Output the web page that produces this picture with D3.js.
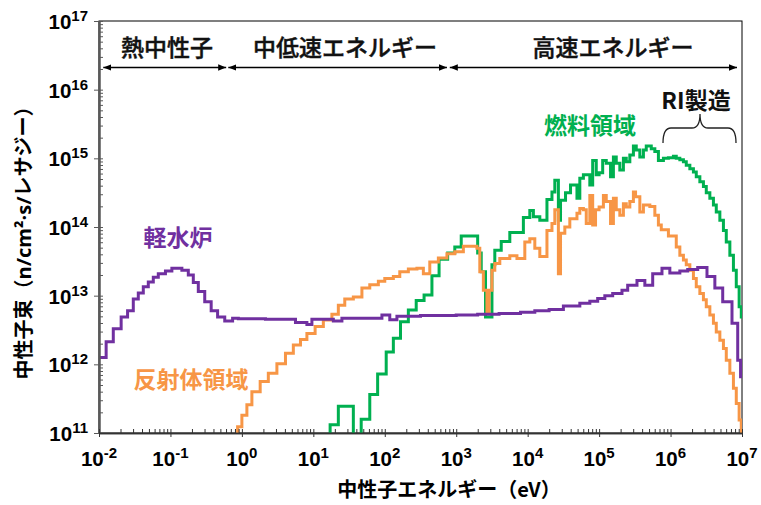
<!DOCTYPE html>
<html><head><meta charset="utf-8">
<script src="https://cdn.jsdelivr.net/npm/d3@7"></script>
<style>body{margin:0;background:#fff;} svg{display:block}</style>
</head><body>
<svg id="chart" width="761" height="505"></svg>
<script>
// ---- tick labels (exponents of 10) ----
const xTickExps = [-2,-1,0,1,2,3,4,5,6,7];
const yTickExps = [11,12,13,14,15,16,17];
const eMaxExp = 7;

// ---- series: lower bin edge log10(E/eV) and log10(flux) per bin ----
// 軽水炉 (light water reactor)
const lwrStart = [-2.0,-1.90,-1.80,-1.69,-1.60,-1.52,-1.45,-1.38,-1.31,-1.24,
 -1.17,-1.07,-0.98,-0.84,-0.75,-0.68,-0.61,-0.52,-0.43,-0.34,
 -0.24,-0.13,-0.05,0.33,0.75,0.91,0.98,1.28,1.40,1.96,
 2.07,2.17,2.5,3.0,3.3,3.6,3.9,4.1,4.3,4.5,
 4.73,4.87,4.98,5.08,5.19,5.32,5.40,5.53,5.64,5.75,
 5.88,5.99,6.13,6.24,6.38,6.51,6.62,6.73,6.86,6.94,
 6.98];
const lwrFlux = [12.10,12.33,12.52,12.69,12.78,12.95,13.04,13.13,13.20,13.27,
 13.32,13.36,13.40,13.37,13.30,13.19,13.06,12.91,12.78,12.69,
 12.63,12.67,12.665,12.655,12.61,12.58,12.655,12.63,12.67,12.72,
 12.65,12.70,12.71,12.72,12.73,12.74,12.76,12.78,12.80,12.85,
 12.89,12.92,12.96,13.00,13.03,13.08,13.15,13.22,13.15,13.32,
 13.40,13.33,13.36,13.38,13.41,13.28,13.11,12.91,12.60,12.06,
 11.82];

// 反射体領域 (reflector region)
const refStart = [-0.06,0.0,0.07,0.14,0.256,0.37,0.49,0.61,0.72,0.82,
 0.91,1.025,1.14,1.26,1.35,1.44,1.56,1.68,1.79,1.91,
 2.0,2.12,2.21,2.33,2.45,2.54,2.63,2.75,2.87,2.98,
 3.10,3.29,3.33,3.38,3.43,3.46,3.50,3.54,3.61,3.75,
 3.85,3.96,4.03,4.10,4.17,4.27,4.34,4.38,4.43,4.46,
 4.52,4.59,4.69,4.73,4.78,4.82,4.87,4.91,4.95,5.0,
 5.06,5.10,5.16,5.20,5.24,5.29,5.34,5.38,5.43,5.48,
 5.51,5.57,5.62,5.71,5.78,5.83,5.87,5.97,6.08,6.13,
 6.18,6.22,6.27,6.32,6.36,6.41,6.46,6.50,6.55,6.60,
 6.64,6.69,6.74,6.78,6.83,6.88,6.92,6.96,6.99];
const refFlux = [11.09,11.26,11.41,11.60,11.75,11.87,12.01,12.16,12.28,12.36,
 12.45,12.55,12.645,12.73,12.86,12.95,12.98,13.11,13.16,13.21,
 13.25,13.28,13.35,13.39,13.40,13.32,13.49,13.55,13.61,13.64,
 13.72,13.69,13.35,13.08,12.74,13.08,13.37,13.47,13.54,13.58,
 13.54,13.78,13.83,13.69,13.57,13.95,14.05,14.25,13.32,13.91,
 14.00,14.12,14.20,14.27,14.25,14.05,14.46,14.03,14.25,14.29,
 14.46,14.37,14.05,14.42,14.25,14.17,14.34,14.29,14.37,14.51,
 14.44,14.22,14.32,14.30,14.17,14.03,13.96,13.87,13.71,13.59,
 13.52,13.45,13.37,13.25,13.13,13.03,12.94,12.84,12.72,12.60,
 12.47,12.35,12.23,12.06,11.87,11.65,11.43,11.19,11.02];

// 燃料領域 (fuel region)
const fuelStart = [1.235,1.35,1.56,1.67,1.79,1.90,2.02,2.12,2.22,2.33,
 2.44,2.55,2.66,2.76,2.88,2.98,3.07,3.30,3.35,3.41,
 3.50,3.54,3.63,3.75,3.94,4.03,4.08,4.17,4.27,4.34,
 4.38,4.43,4.46,4.53,4.60,4.69,4.73,4.78,4.87,4.91,
 4.96,5.0,5.05,5.10,5.16,5.20,5.24,5.29,5.34,5.38,
 5.43,5.48,5.52,5.57,5.62,5.66,5.73,5.78,5.83,5.90,
 5.97,6.04,6.08,6.13,6.18,6.22,6.27,6.32,6.36,6.41,
 6.46,6.50,6.55,6.60,6.64,6.69,6.74,6.78,6.83,6.88,
 6.92,6.96,6.99];
const fuelFlux = [11.12,11.39,10.5,11.20,11.56,11.86,12.18,12.38,12.62,12.79,
 12.93,13.01,13.29,13.53,13.62,13.71,13.87,13.62,13.35,12.69,
 13.45,13.66,13.79,13.92,14.14,14.24,14.15,14.10,14.40,14.51,
 14.68,14.10,14.39,14.50,14.61,14.42,14.71,14.76,14.61,14.97,
 14.76,14.79,14.97,14.93,14.73,15.02,14.93,14.83,15.00,14.95,
 15.05,15.18,15.12,15.02,15.12,15.18,15.14,15.10,14.97,15.00,
 15.01,15.03,15.00,14.98,14.95,14.90,14.85,14.80,14.73,14.66,
 14.59,14.50,14.42,14.32,14.22,14.10,13.95,13.78,13.59,13.37,
 13.13,12.84,12.69];

// energy-range arrows (log10 E) and labels
const rangeLabels = ["熱中性子","中低速エネルギー","高速エネルギー"];
const rangeFrom = [-1.94,-0.19,2.91];
const rangeTo   = [-0.22,2.87,6.93];

const svg = d3.select("#chart");
const M = {left:99, right:742, top:21, bottom:433};
const x = d3.scaleLog().domain([10**xTickExps[0], 10**xTickExps[xTickExps.length-1]]).range([M.left, M.right]);
const y = d3.scaleLog().domain([10**yTickExps[0], 10**yTickExps[yTickExps.length-1]]).range([M.bottom, M.top]);

const JP = "'Noto Sans CJK JP','Noto Sans CJK SC',sans-serif";
const NUM = "'Liberation Sans',Arial,sans-serif";

// frame (top & right)
svg.append("rect").attr("x",M.left).attr("y",M.top).attr("width",M.right-M.left).attr("height",M.bottom-M.top)
  .attr("fill","none").attr("stroke","#000").attr("stroke-width",1);

// clip
svg.append("defs").append("clipPath").attr("id","plot").append("rect")
  .attr("x",M.left).attr("y",M.top).attr("width",M.right-M.left).attr("height",M.bottom-M.top);

const series = [
  {start:fuelStart, flux:fuelFlux, color:"#00B050", fromAxis:true},
  {start:refStart,  flux:refFlux,  color:"#F79646", fromAxis:true},
  {start:lwrStart,  flux:lwrFlux,  color:"#7030A0", fromAxis:false}
];
const line = d3.line().x(d=>x(d[0])).y(d=>y(d[1])).curve(d3.curveStepAfter);
const gL = svg.append("g").attr("clip-path","url(#plot)");
series.forEach(s=>{
  const pts = [];
  if (s.fromAxis) pts.push([10**s.start[0], 10**(yTickExps[0]-0.5)]);
  s.start.forEach((e,i)=>pts.push([10**e, 10**s.flux[i]]));
  pts.push([10**eMaxExp, 10**s.flux[s.flux.length-1]]);
  gL.append("path").attr("d",line(pts)).attr("fill","none")
    .attr("stroke",s.color).attr("stroke-width",3).attr("stroke-linejoin","miter");
});

// ticks
const xMaj = xTickExps.map(e=>10**e);
const yMaj = yTickExps.map(e=>10**e);
const xAll = [], yAll = [];
for (let k=xTickExps[0]; k<xTickExps[xTickExps.length-1]; k++) for (let j=1;j<=9;j++) xAll.push(j*10**k);
xAll.push(10**xTickExps[xTickExps.length-1]);
for (let k=yTickExps[0]; k<yTickExps[yTickExps.length-1]; k++) for (let j=1;j<=9;j++) yAll.push(j*10**k);
yAll.push(10**yTickExps[yTickExps.length-1]);

function styleAxis(g, col, w){
  g.selectAll("text").remove();
  g.select(".domain").attr("stroke",col).attr("stroke-width",w);
  g.selectAll(".tick line").attr("stroke",col).attr("stroke-width",1);
}
// y axis
svg.append("g").attr("transform",`translate(${M.left},0)`)
  .call(d3.axisRight(y).tickValues(yAll).tickSize(4).tickSizeOuter(0).tickFormat(""))
  .call(g=>styleAxis(g,"#595959",2));
svg.append("g").attr("transform",`translate(${M.left},0)`)
  .call(d3.axisLeft(y).tickValues(yMaj).tickSize(5).tickSizeOuter(0).tickFormat(""))
  .call(g=>styleAxis(g,"#595959",2));
// x axis
svg.append("g").attr("transform",`translate(0,${M.bottom})`)
  .call(d3.axisTop(x).tickValues(xAll).tickSize(4).tickSizeOuter(0).tickFormat(""))
  .call(g=>styleAxis(g,"#333",1.5));
svg.append("g").attr("transform",`translate(0,${M.bottom})`)
  .call(d3.axisBottom(x).tickValues(xMaj).tickSize(4).tickSizeOuter(0).tickFormat(""))
  .call(g=>styleAxis(g,"#333",1.5));

// tick labels
function powLabel(sel){
  sel.append("tspan").text("10");
  sel.append("tspan").attr("dy",-8).attr("font-size",15).text(d=>d);
}
svg.append("g").selectAll("text").data(xTickExps).join("text")
  .attr("x",d=>x(10**d)).attr("y",466).attr("text-anchor","middle")
  .attr("font-family",NUM).attr("font-weight","bold").attr("font-size",20.5).attr("fill","#000")
  .call(powLabel);
svg.append("g").selectAll("text").data(yTickExps).join("text")
  .attr("x",88).attr("y",d=>y(10**d)+8).attr("text-anchor","end")
  .attr("font-family",NUM).attr("font-weight","bold").attr("font-size",20.5).attr("fill","#000")
  .call(powLabel);

// axis titles
svg.append("text").attr("x",449).attr("y",497).attr("text-anchor","middle")
  .attr("font-family",JP).attr("font-weight","bold").attr("font-size",20).text("中性子エネルギー（eV）");
const yt = svg.append("text").attr("transform","translate(31,238) rotate(-90)").attr("text-anchor","middle")
  .attr("font-family",JP).attr("font-weight","bold").attr("font-size",20);
yt.append("tspan").text("中性子束（");
yt.append("tspan").attr("font-family","'Open Sans','Liberation Sans',sans-serif").text("n/cm²·s/");
yt.append("tspan").text("レサジー）");

// range arrows
svg.append("defs").append("marker").attr("id","ah").attr("viewBox","0 0 10 10").attr("refX",10).attr("refY",5)
  .attr("markerWidth",8).attr("markerHeight",8).attr("markerUnits","userSpaceOnUse").attr("orient","auto-start-reverse")
  .append("path").attr("d","M0,1 L10,5 L0,9 Z").attr("fill","#000");
const arrowY = 67.5;
rangeLabels.forEach((t,i)=>{
  const x0 = x(10**rangeFrom[i]), x1 = x(10**rangeTo[i]);
  svg.append("line").attr("x1",x0).attr("x2",x1).attr("y1",arrowY).attr("y2",arrowY)
    .attr("stroke","#000").attr("stroke-width",1.5)
    .attr("marker-start","url(#ah)").attr("marker-end","url(#ah)");
});
const rangeTextX = [167, 345, 613];
rangeLabels.forEach((t,i)=>{
  svg.append("text").attr("x",rangeTextX[i]).attr("y",56).attr("text-anchor","middle")
    .attr("font-family",JP).attr("font-weight","500").attr("font-size",23).attr("fill","#111")
    .attr("stroke","#111").attr("stroke-width",0.45).text(t);
});

// RI label + brace
svg.append("text").attr("x",696).attr("y",109).attr("text-anchor","middle")
  .attr("font-family",JP).attr("font-weight","bold").attr("font-size",23).attr("fill","#111").text("RI製造");
svg.append("path").attr("d","M663,143 Q663,128 671,128 L692,128 Q700,128 700,114 Q700,128 708,128 L728,128 Q736,128 736,143")
  .attr("fill","none").attr("stroke","#222").attr("stroke-width",1.3);

// series labels
const labs = [
  {t:"燃料領域", x:590, y:134, c:"#00B050"},
  {t:"軽水炉", x:178, y:246, c:"#7030A0"},
  {t:"反射体領域", x:191, y:388, c:"#F79646"}
];
labs.forEach(l=>svg.append("text").attr("x",l.x).attr("y",l.y).attr("text-anchor","middle")
  .attr("font-family",JP).attr("font-weight","bold").attr("font-size",23).attr("fill",l.c).text(l.t));
</script>
</body></html>
